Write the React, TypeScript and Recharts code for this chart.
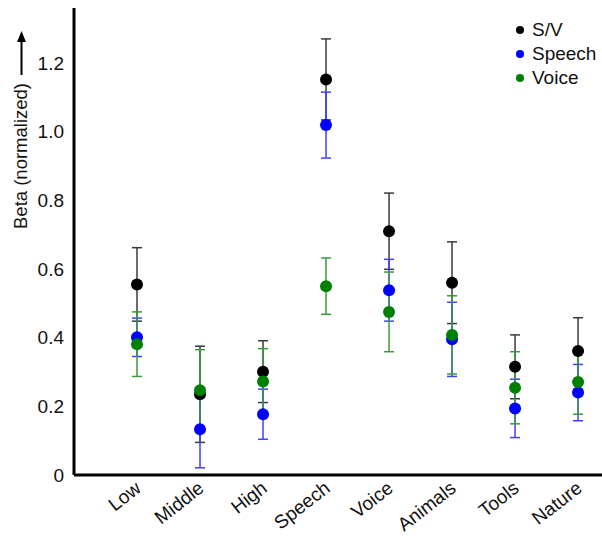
import { ScatterChart, Scatter, XAxis, YAxis, ErrorBar, Legend } from 'recharts'

const categories = ['Low', 'Middle', 'High', 'Speech', 'Voice', 'Animals', 'Tools', 'Nature']

const svMean = [0.555, 0.235, 0.301, 1.152, 0.71, 0.56, 0.315, 0.361]
const svErr = [0.107, 0.14, 0.09, 0.118, 0.111, 0.119, 0.093, 0.097]

const speechMean = [0.401, 0.133, 0.177, 1.019, 0.538, 0.395, 0.194, 0.24]
const speechErr = [0.056, 0.112, 0.073, 0.096, 0.09, 0.108, 0.085, 0.082]

const voiceMean = [0.381, 0.247, 0.272, 0.55, 0.475, 0.408, 0.254, 0.271]
const voiceErr = [0.094, 0.118, 0.096, 0.082, 0.116, 0.114, 0.105, 0.094]

const yTicks = [0, 0.2, 0.4, 0.6, 0.8, 1.0, 1.2]
const xTicks = categories.map((_, i) => i + 1)

const FONT = '"Liberation Sans", Arial, sans-serif'

const build = (mean: number[], err: number[]) =>
  mean.map((y, i) => ({ x: i + 1, y, err: err[i], name: categories[i] }))

const svData = build(svMean, svErr)
const speechData = build(speechMean, speechErr)
const voiceData = build(voiceMean, voiceErr)

const dot = (fill: string) => (props: any) => (
  <circle cx={props.cx} cy={props.cy} r={6} fill={fill} />
)

const XTick = ({ x, y, payload }: any) => (
  <text
    transform={`translate(${x - 3},${y + 3}) rotate(-38)`}
    textAnchor="end"
    dy="0.7em"
    fontSize={19}
    fontFamily={FONT}
    fill="#111"
  >
    {categories[payload.value - 1]}
  </text>
)

const AxisTitle = () => (
  <g>
    <text
      transform="translate(27,156) rotate(-90)"
      textAnchor="middle"
      fontSize={18.5}
      fontFamily={FONT}
      fill="#111"
    >
      Beta (normalized)
    </text>
    <line x1={21.5} y1={75} x2={21.5} y2={40} stroke="#000" strokeWidth={2} />
    <polygon points="17,42 26,42 21.5,31" fill="#000" />
  </g>
)

const LegendBox = ({ payload }: any) => (
  <div style={{ fontFamily: FONT, fontSize: 19, color: '#111', lineHeight: '24px' }}>
    {(payload || []).map((p: any) => (
      <div key={p.value} style={{ display: 'flex', alignItems: 'center', height: 24 }}>
        <span
          style={{
            width: 8, height: 8, borderRadius: 4, background: p.color,
            display: 'inline-block', marginRight: 8,
          }}
        />
        {p.value}
      </div>
    ))}
  </div>
)

export default function App() {
  return (
    <div style={{ position: 'absolute', left: 0, top: 0 }}>
      <ScatterChart width={602} height={536} margin={{ top: 8, right: 0, bottom: 0, left: 0 }}>
        <XAxis
          type="number"
          dataKey="x"
          domain={[0, 8.38]}
          ticks={xTicks}
          allowDataOverflow
          height={61}
          tickLine={false}
          tickSize={0}
          axisLine={{ stroke: '#000', strokeWidth: 3 }}
          tick={<XTick />}
        />
        <YAxis
          type="number"
          dataKey="y"
          domain={[0, 1.36]}
          ticks={yTicks}
          allowDataOverflow
          width={74}
          tickLine={false}
          tickSize={0}
          tickMargin={10}
          axisLine={{ stroke: '#000', strokeWidth: 3 }}
          tick={{ fontSize: 19, fontFamily: FONT, fill: '#111' }}
          tickFormatter={(v: number) => (v === 0 ? '0' : v.toFixed(1))}
          label={<AxisTitle />}
        />
        <Legend
          layout="horizontal"
          verticalAlign="middle"
          align="center"
          content={<LegendBox />}
          wrapperStyle={{ position: 'absolute', top: 18, left: 516, width: 90 }}
        />
        <Scatter name="S/V" data={svData} fill="#000" shape={dot('#000')} isAnimationActive={false}>
          <ErrorBar dataKey="err" direction="y" width={5} stroke="#3a3a3a" strokeWidth={1.5} />
        </Scatter>
        <Scatter name="Speech" data={speechData} fill="#0000ff" shape={dot('#0000ff')} isAnimationActive={false}>
          <ErrorBar dataKey="err" direction="y" width={5} stroke="#4040ff" strokeWidth={1.5} />
        </Scatter>
        <Scatter name="Voice" data={voiceData} fill="#008000" shape={dot('#008000')} isAnimationActive={false}>
          <ErrorBar dataKey="err" direction="y" width={5} stroke="#3a9a3a" strokeWidth={1.5} />
        </Scatter>
      </ScatterChart>
    </div>
  )
}
